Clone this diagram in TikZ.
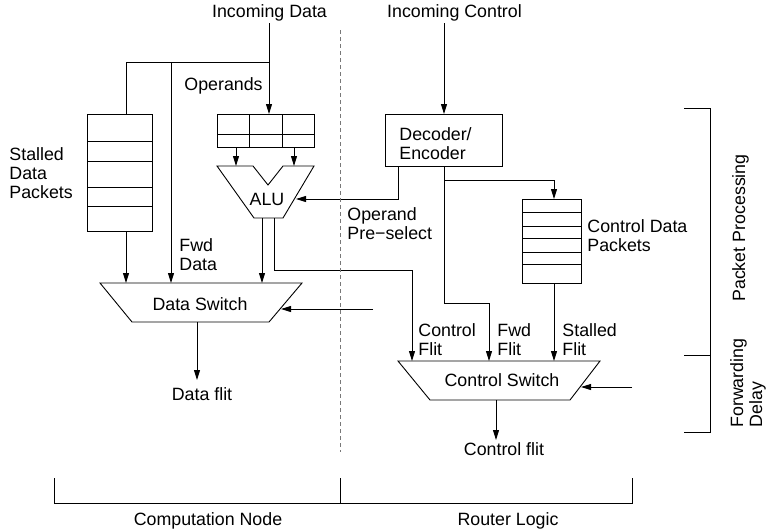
\documentclass[tikz,border=0pt]{standalone}
\usepackage{fontspec}
\setmainfont{Liberation Sans}
\usetikzlibrary{arrows.meta}
\definecolor{dashgray}{RGB}{120,120,120}
\begin{document}
\begin{tikzpicture}[x=1pt,y=-1pt, line width=0.9pt,
  arr/.style={-{Triangle[length=10pt,width=6pt]}},
  lbl/.style={inner sep=0pt, font=\fontsize{17.8}{19}\selectfont},
  box/.style={draw, inner sep=0pt, anchor=north west}]
\useasboundingbox (0,0) rectangle (770,531);

% ---------- texts (multi-line: anchor on last line baseline) ----------
\node[lbl, anchor=base] (indata) at (269.5,17) {Incoming Data};
\node[lbl, anchor=base] (inctrl) at (454.5,17) {Incoming Control};
\node[lbl, anchor=base west] (operands) at (184,90) {Operands};
\node[lbl, anchor=base west, align=left] (stalledlbl) at (9,198) {Stalled\\Data\\Packets};
\node[lbl, anchor=base west, align=left] (fwddata) at (179,270) {Fwd\\Data};
\node[lbl, anchor=base] (alulbl) at (267,205) {ALU};
\node[lbl, anchor=base west, align=left] (opsel) at (347,239) {Operand\\Pre−select};
\node[lbl, anchor=base west, align=left] (declbl) at (399,159) {Decoder/\\Encoder};
\node[lbl, anchor=base west, align=left] (cdplbl) at (587,251) {Control Data\\Packets};
\node[lbl, anchor=base] (dswlbl) at (200,310) {Data Switch};
\node[lbl, anchor=base] (dflit) at (202,400) {Data flit};
\node[lbl, anchor=base west, align=left] (ctlflit) at (418,355) {Control\\Flit};
\node[lbl, anchor=base west, align=left] (fwdflit) at (497,355) {Fwd\\Flit};
\node[lbl, anchor=base west, align=left] (stflit) at (562,355) {Stalled\\Flit};
\node[lbl, anchor=base] (cswlbl) at (502,386) {Control Switch};
\node[lbl, anchor=base] (cflit) at (504,455) {Control flit};
\node[lbl, anchor=base] (compnode) at (208,525) {Computation Node};
\node[lbl, anchor=base] (router) at (508,525) {Router Logic};
\node[lbl, anchor=base, rotate=90] (pproc) at (745,228) {Packet Processing};
\node[lbl, anchor=base west, rotate=90, align=left] (fdelay) at (762,428) {Forwarding\\Delay};

% ---------- boxes ----------
\node[box, minimum width=65pt, minimum height=117pt] (sbuf) at (87,114) {};
\foreach \yy in {141,161,187,206} \draw (87,\yy) -- (152,\yy);

\node[box, minimum width=97pt, minimum height=33pt] (opbuf) at (217,114) {};
\draw (217,134) -- (314,134);
\draw (249,114) -- (249,147);
\draw (282,114) -- (282,147);

\node[box, minimum width=117pt, minimum height=52pt] (dec) at (385,114) {};

\node[box, minimum width=59pt, minimum height=84pt] (cbuf) at (522,199) {};
\foreach \yy in {212,226,238,252,264} \draw (522,\yy) -- (581,\yy);

% ALU
\draw (217,166) -- (253,166) -- (268,185) -- (283,166) -- (314,166)
      -- (283,218) -- (254,218) -- cycle;
% Data switch
\draw (100,283) -- (302,283) -- (269,322) -- (132,322) -- cycle;
% Control switch
\draw (398,361) -- (600,361) -- (570,400) -- (430,400) -- cycle;

% ---------- coordinates ----------
\coordinate (din) at (269,23);
\coordinate (j1) at (269,62);
\coordinate (sbin) at (126,114);
\coordinate (sbout) at (126,231);
\coordinate (fwdtop) at (171,62);
\coordinate (dsw1) at (126,283);
\coordinate (dsw2) at (171,283);
\coordinate (dsw3) at (262,283);
\coordinate (opo1) at (236,147);
\coordinate (opo2) at (294,147);
\coordinate (alui1) at (236,166);
\coordinate (alui2) at (294,166);
\coordinate (aluo1) at (262,218);
\coordinate (aluo2) at (274,218);
\coordinate (aluturn) at (412,270);
\coordinate (csw1) at (412,361);
\coordinate (csw2) at (489,361);
\coordinate (csw3) at (554,361);
\coordinate (decop) at (398,166);
\coordinate (alusel) at (296,199);
\coordinate (cin) at (444,23);
\coordinate (decin) at (444,114);
\coordinate (decout) at (444,166);
\coordinate (fwdturn) at (489,303);
\coordinate (cbranch) at (444,180);
\coordinate (cbin) at (554,199);
\coordinate (cbout) at (554,283);
\coordinate (cswr) at (632,387);
\coordinate (cswre) at (581,387);
\coordinate (dswr) at (373,309);
\coordinate (dswre) at (281,309);
\coordinate (dswo) at (197,322);
\coordinate (dflitin) at (197,380);
\coordinate (cswo) at (496,400);
\coordinate (cflitin) at (496,440);

% ---------- connectors ----------
\draw[arr] (din) -- (din |- opbuf.north);
\draw (j1) -| (sbin);
\draw (fwdtop) -- (j1);
\draw[arr] (fwdtop) -- (dsw2);
\draw[arr] (sbout) -- (dsw1);
\draw[arr] (opo1) -- (alui1);
\draw[arr] (opo2) -- (alui2);
\draw[arr] (aluo1) -- (dsw3);
\draw[arr] (aluo2) |- (aluturn) -- (csw1);
\draw[arr] (decop) |- (alusel);
\draw[arr] (cin) -- (decin);
\draw[arr] (decout) |- (fwdturn) -- (csw2);
\draw[arr] (cbranch) -| (cbin);
\draw[arr] (cbout) -- (csw3);
\draw[arr] (cswr) -- (cswre);
\draw[arr] (dswr) -- (dswre);
\draw[arr] (dswo) -- (dflitin);
\draw[arr] (cswo) -- (cflitin);

% ---------- dashed divider ----------
\draw[dashgray, dash pattern=on 4pt off 3pt] (340,30) -- (340,452);

% ---------- brackets ----------
\draw (54,478) -- (54,503) -- (632,503) -- (632,478);
\draw (340,478) -- (340,503);
\draw (684,108) -- (710,108) -- (710,432) -- (684,432);
\draw (684,355) -- (710,355);
\end{tikzpicture}
\end{document}
